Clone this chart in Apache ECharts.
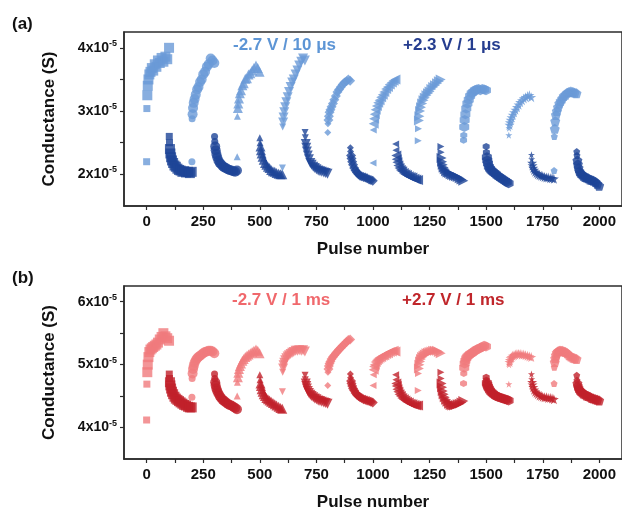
<!DOCTYPE html>
<html>
<head>
<meta charset="utf-8">
<script src="https://cdn.jsdelivr.net/npm/echarts@6/dist/echarts.min.js"></script>
<style>
  html, body { margin: 0; padding: 0; background: #fff; }
  #main { width: 622px; height: 512px; }
</style>
</head>
<body>
<div id="main"></div>
<script>
// pulse offsets inside each 100-pulse segment
var offs = [0, 1, 3, 5, 8, 12, 17, 23, 29, 36, 43, 50, 58, 66, 74, 83, 91, 99];

// conductance in units of 1e-5 S
// (a) potentiation -2.7 V / 10 us, segments start at 0, 200, ... 1800
var aPot = [
  [2.20, 3.04, 3.25, 3.40, 3.50, 3.58, 3.62, 3.68, 3.64, 3.74, 3.70, 3.80, 3.76, 3.84, 3.78, 3.86, 3.82, 4.00],
  [2.20, 2.88, 2.95, 3.05, 3.13, 3.19, 3.26, 3.34, 3.38, 3.46, 3.50, 3.58, 3.62, 3.70, 3.74, 3.83, 3.80, 3.76],
  [2.28, 2.92, 3.05, 3.12, 3.20, 3.28, 3.33, 3.41, 3.44, 3.51, 3.52, 3.58, 3.60, 3.64, 3.68, 3.72, 3.68, 3.62],
  [2.10, 2.75, 2.82, 2.90, 2.98, 3.06, 3.14, 3.22, 3.30, 3.38, 3.45, 3.50, 3.58, 3.64, 3.72, 3.78, 3.83, 3.80],
  [2.66, 2.80, 2.86, 2.92, 2.98, 3.02, 3.07, 3.12, 3.18, 3.24, 3.30, 3.34, 3.38, 3.42, 3.45, 3.47, 3.50, 3.48],
  [2.18, 2.70, 2.80, 2.88, 2.95, 3.02, 3.08, 3.13, 3.17, 3.22, 3.26, 3.30, 3.35, 3.38, 3.42, 3.45, 3.48, 3.50],
  [2.53, 2.72, 2.85, 2.92, 3.00, 3.06, 3.12, 3.17, 3.21, 3.25, 3.28, 3.31, 3.35, 3.38, 3.41, 3.44, 3.47, 3.50],
  [2.54, 2.62, 2.75, 2.86, 2.95, 3.04, 3.12, 3.18, 3.24, 3.28, 3.30, 3.33, 3.34, 3.35, 3.33, 3.35, 3.34, 3.33],
  [2.62, 2.73, 2.78, 2.82, 2.86, 2.90, 2.94, 2.98, 3.02, 3.06, 3.10, 3.14, 3.17, 3.20, 3.22, 3.24, 3.25, 3.22],
  [2.06, 2.60, 2.72, 2.84, 2.94, 3.00, 3.06, 3.12, 3.16, 3.20, 3.24, 3.26, 3.29, 3.30, 3.31, 3.30, 3.29, 3.28]
];
// (a) depression +2.3 V / 1 us, segments start at 100, 300, ... 1900
var aDep = [
  [2.60, 2.50, 2.40, 2.33, 2.27, 2.22, 2.18, 2.14, 2.12, 2.09, 2.07, 2.06, 2.04, 2.05, 2.03, 2.04, 2.02, 2.04],
  [2.60, 2.52, 2.44, 2.38, 2.32, 2.27, 2.22, 2.18, 2.16, 2.13, 2.11, 2.10, 2.08, 2.07, 2.06, 2.05, 2.04, 2.06],
  [2.58, 2.50, 2.44, 2.38, 2.33, 2.28, 2.23, 2.18, 2.15, 2.12, 2.10, 2.07, 2.05, 2.04, 2.02, 2.01, 2.00, 2.00],
  [2.66, 2.58, 2.48, 2.42, 2.36, 2.30, 2.24, 2.18, 2.15, 2.12, 2.10, 2.08, 2.06, 2.05, 2.04, 2.03, 2.02, 2.01],
  [2.42, 2.36, 2.30, 2.25, 2.20, 2.15, 2.10, 2.06, 2.03, 2.00, 1.98, 1.97, 1.96, 1.95, 1.94, 1.92, 1.91, 1.90],
  [2.48, 2.38, 2.30, 2.24, 2.19, 2.14, 2.10, 2.07, 2.05, 2.02, 2.00, 1.99, 1.97, 1.96, 1.95, 1.93, 1.92, 1.91],
  [2.44, 2.35, 2.26, 2.20, 2.15, 2.11, 2.08, 2.05, 2.03, 2.02, 2.00, 1.99, 1.98, 1.97, 1.96, 1.94, 1.92, 1.90],
  [2.44, 2.35, 2.27, 2.22, 2.17, 2.12, 2.09, 2.06, 2.04, 2.02, 2.00, 1.98, 1.96, 1.94, 1.92, 1.90, 1.88, 1.86],
  [2.31, 2.24, 2.18, 2.14, 2.10, 2.07, 2.04, 2.02, 2.00, 1.99, 1.98, 1.97, 1.96, 1.95, 1.95, 1.94, 1.94, 1.93],
  [2.36, 2.30, 2.22, 2.16, 2.10, 2.05, 2.02, 2.00, 1.98, 1.96, 1.95, 1.94, 1.92, 1.91, 1.90, 1.88, 1.85, 1.82]
];
// (b) potentiation -2.7 V / 1 ms
var bPot = [
  [4.12, 4.69, 4.88, 5.00, 5.12, 5.20, 5.24, 5.26, 5.28, 5.30, 5.32, 5.35, 5.40, 5.44, 5.50, 5.45, 5.42, 5.38],
  [4.48, 4.78, 4.86, 4.93, 4.98, 5.03, 5.07, 5.10, 5.12, 5.14, 5.16, 5.18, 5.20, 5.21, 5.22, 5.22, 5.21, 5.18],
  [4.50, 4.72, 4.80, 4.87, 4.93, 4.98, 5.02, 5.06, 5.09, 5.12, 5.14, 5.16, 5.18, 5.20, 5.22, 5.24, 5.22, 5.18],
  [4.57, 4.88, 4.94, 4.99, 5.03, 5.07, 5.10, 5.13, 5.15, 5.17, 5.19, 5.20, 5.22, 5.22, 5.23, 5.22, 5.23, 5.21],
  [4.67, 4.88, 4.93, 4.98, 5.02, 5.05, 5.09, 5.12, 5.15, 5.18, 5.21, 5.24, 5.27, 5.30, 5.33, 5.36, 5.39, 5.40],
  [4.67, 4.84, 4.92, 4.97, 5.00, 5.04, 5.07, 5.09, 5.11, 5.12, 5.14, 5.15, 5.17, 5.18, 5.20, 5.21, 5.22, 5.21],
  [4.59, 4.86, 4.94, 5.00, 5.05, 5.09, 5.12, 5.14, 5.16, 5.18, 5.19, 5.20, 5.21, 5.22, 5.22, 5.22, 5.20, 5.18],
  [4.70, 4.86, 4.95, 5.02, 5.06, 5.10, 5.13, 5.15, 5.17, 5.18, 5.20, 5.22, 5.24, 5.25, 5.27, 5.28, 5.30, 5.29],
  [4.69, 5.00, 5.04, 5.07, 5.10, 5.12, 5.14, 5.15, 5.16, 5.17, 5.17, 5.17, 5.16, 5.16, 5.15, 5.14, 5.13, 5.12],
  [4.70, 4.96, 5.04, 5.10, 5.15, 5.19, 5.21, 5.22, 5.22, 5.22, 5.21, 5.20, 5.18, 5.15, 5.13, 5.11, 5.10, 5.09]
];
// (b) depression +2.7 V / 1 ms
var bDep = [
  [4.85, 4.78, 4.72, 4.67, 4.62, 4.57, 4.53, 4.49, 4.46, 4.44, 4.42, 4.40, 4.38, 4.36, 4.35, 4.33, 4.32, 4.32],
  [4.85, 4.78, 4.72, 4.67, 4.62, 4.58, 4.54, 4.50, 4.47, 4.44, 4.42, 4.40, 4.38, 4.36, 4.35, 4.33, 4.31, 4.29],
  [4.84, 4.76, 4.70, 4.66, 4.61, 4.57, 4.53, 4.50, 4.47, 4.45, 4.43, 4.41, 4.39, 4.37, 4.35, 4.33, 4.31, 4.30],
  [4.83, 4.76, 4.70, 4.66, 4.62, 4.58, 4.55, 4.52, 4.50, 4.48, 4.46, 4.45, 4.43, 4.42, 4.41, 4.40, 4.39, 4.38],
  [4.85, 4.79, 4.74, 4.70, 4.66, 4.62, 4.59, 4.55, 4.52, 4.50, 4.48, 4.47, 4.45, 4.44, 4.43, 4.42, 4.41, 4.40],
  [4.84, 4.76, 4.70, 4.66, 4.61, 4.57, 4.53, 4.50, 4.47, 4.45, 4.43, 4.41, 4.40, 4.38, 4.37, 4.36, 4.35, 4.35],
  [4.88, 4.78, 4.70, 4.64, 4.58, 4.53, 4.48, 4.44, 4.41, 4.38, 4.36, 4.35, 4.35, 4.36, 4.37, 4.38, 4.40, 4.42],
  [4.80, 4.75, 4.71, 4.68, 4.65, 4.62, 4.59, 4.56, 4.54, 4.52, 4.50, 4.49, 4.48, 4.47, 4.46, 4.45, 4.44, 4.43],
  [4.85, 4.77, 4.72, 4.68, 4.64, 4.60, 4.57, 4.55, 4.53, 4.51, 4.50, 4.49, 4.48, 4.48, 4.47, 4.47, 4.46, 4.45],
  [4.83, 4.75, 4.70, 4.66, 4.63, 4.60, 4.58, 4.56, 4.54, 4.53, 4.51, 4.50, 4.49, 4.47, 4.46, 4.45, 4.44, 4.43]
];

var xTicks = [0, 250, 500, 750, 1000, 1250, 1500, 1750, 2000];
var xMinor = [0, 125, 250, 375, 500, 625, 750, 875, 1000, 1125, 1250, 1375, 1500, 1625, 1750, 1875, 2000];
var aYTicks = [2, 3, 4];
var bYTicks = [4, 5, 6];

var FONT = '"Liberation Sans", Arial, sans-serif';
var AXIS = '#2b2b2b';

// one symbol per cycle, like Origin's default sequence
var hexagon = 'path://M0,-1L0.866,-0.5L0.866,0.5L0,1L-0.866,0.5L-0.866,-0.5Z';
var star = 'path://M0,-1L0.2245,-0.309L0.951,-0.309L0.3633,0.118L0.5878,0.809L0,0.382L-0.5878,0.809L-0.3633,0.118L-0.951,-0.309L-0.2245,-0.309Z';
var pentagon = 'path://M0,-1L0.951,-0.309L0.588,0.809L-0.588,0.809L-0.951,-0.309Z';
var symbols = ['rect', 'circle', 'triangle', 'triangle', 'diamond', 'triangle', 'triangle', hexagon, star, pentagon];
var rotates = [0, 0, 0, 180, 0, 90, -90, 0, 0, 0];

function segData(start, vals) {
    return offs.map(function (o, i) { return [start + o, vals[i]]; });
}

// the dense clouds of 100 pulses are thicker than a single marker
function markSize(val, params) {
    return params.dataIndex < 2 ? 7 : 10;
}

function buildSeries(pot, dep, lightColor, darkColor, idx) {
    var list = [];
    for (var c = 0; c < pot.length; c++) {
        var base = {
            type: 'scatter',
            xAxisIndex: idx * 2,
            yAxisIndex: idx * 2,
            symbol: symbols[c],
            symbolRotate: rotates[c],
            symbolSize: markSize,
            silent: true,
            animation: false
        };
        list.push(Object.assign({}, base, {
            data: segData(c * 200, pot[c]),
            itemStyle: { color: lightColor }
        }));
        list.push(Object.assign({}, base, {
            data: segData(c * 200 + 100, dep[c]),
            itemStyle: { color: darkColor }
        }));
    }
    return list;
}

function xAxisMain(grid) {
    return {
        type: 'value', gridIndex: grid, min: -100, max: 2100,
        name: 'Pulse number', nameLocation: 'middle', nameGap: 35,
        nameTextStyle: { fontFamily: FONT, fontWeight: 'bold', fontSize: 17, color: '#111' },
        axisLine: { onZero: false, lineStyle: { color: AXIS, width: 1.5 } },
        axisTick: { customValues: xMinor, length: 4, lineStyle: { color: AXIS, width: 1.2 } },
        axisLabel: {
            customValues: xTicks, margin: 8,
            formatter: function (val) { return String(val); },
            fontFamily: FONT, fontWeight: 'bold', fontSize: 15, color: '#111'
        },
        splitLine: { show: false }
    };
}

function yAxisMain(grid, min, max, ticks) {
    var minor = [];
    for (var v = ticks[0]; v <= ticks[ticks.length - 1]; v += 0.5) minor.push(v);
    return {
        type: 'value', gridIndex: grid, min: min, max: max,
        name: 'Conductance (S)', nameLocation: 'middle', nameGap: 66,
        nameTextStyle: { fontFamily: FONT, fontWeight: 'bold', fontSize: 17, color: '#111' },
        axisLine: { show: true, onZero: false, lineStyle: { color: AXIS, width: 1.5 } },
        axisTick: { show: true, customValues: minor, length: 4, lineStyle: { color: AXIS, width: 1.2 } },
        axisLabel: {
            customValues: ticks, margin: 7,
            formatter: function (val) { return '{n|' + val + 'x10}{e|-5}'; },
            rich: {
                n: { fontFamily: FONT, fontWeight: 'bold', fontSize: 14, color: '#111', lineHeight: 18 },
                e: { fontFamily: FONT, fontWeight: 'bold', fontSize: 9, color: '#111', verticalAlign: 'top' }
            }
        },
        splitLine: { show: false }
    };
}

function label(text, left, top, color) {
    return {
        type: 'text', left: left, top: top,
        style: { text: text, fill: color, font: 'bold 17px ' + FONT }
    };
}

var myChart = echarts.init(document.getElementById('main'));

var option = {
    backgroundColor: '#fff',
    animation: false,
    grid: [
        { left: 124, top: 32, right: -5, height: 174, show: true, borderColor: AXIS, borderWidth: 1.5 },
        { left: 124, top: 286, right: -5, height: 175, show: true, borderColor: AXIS, borderWidth: 1.5 }
    ],
    xAxis: [
        xAxisMain(0),
        { type: 'value', gridIndex: 0, min: -100, max: 2100, show: false },
        xAxisMain(1),
        { type: 'value', gridIndex: 1, min: -100, max: 2100, show: false }
    ],
    yAxis: [
        yAxisMain(0, 1.5, 4.25, aYTicks),
        { type: 'value', gridIndex: 0, min: 1.5, max: 4.25, show: false },
        yAxisMain(1, 3.5, 6.25, bYTicks),
        { type: 'value', gridIndex: 1, min: 3.5, max: 6.25, show: false }
    ],
    graphic: [
        label('(a)', 12, 16, '#111'),
        label('(b)', 12, 270, '#111'),
        label('-2.7 V / 10 \u03bcs', 233, 37, '#5d95d5'),
        label('+2.3 V / 1 \u03bcs', 403, 37, '#253d8f'),
        label('-2.7 V / 1 ms', 232, 292, '#f0686c'),
        label('+2.7 V / 1 ms', 402, 292, '#c0262b')
    ],
    series: buildSeries(aPot, aDep, '#6a9ad7', '#1e4597', 0)
        .concat(buildSeries(bPot, bDep, '#f07b7d', '#c0212a', 1))
};

myChart.setOption(option);
</script>
</body>
</html>
